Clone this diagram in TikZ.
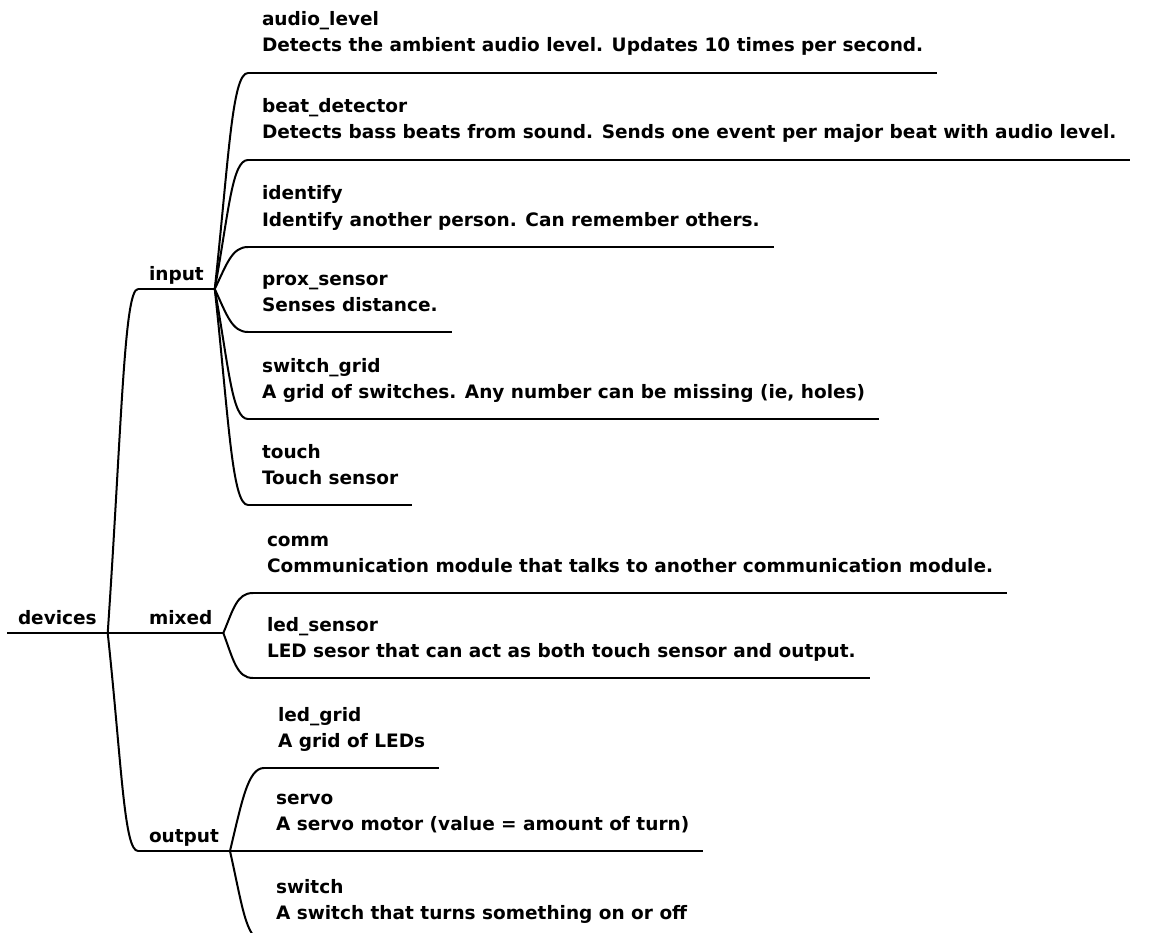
\documentclass[tikz,border=0pt]{standalone}
\usepackage{fontspec}
\setmainfont{DejaVu Sans}
\begin{document}
\begin{tikzpicture}[x=1pt, y=-1pt, line width=2pt,
        topic/.style={anchor=south west, inner xsep=10pt, inner ysep=3pt, text depth=5pt,
            font=\fontsize{18.5}{26}\selectfont\bfseries},
        leaf/.style={anchor=south west, align=left, inner xsep=13pt, inner ysep=15pt, text depth=5pt,
            font=\fontsize{18.5}{26}\selectfont\bfseries}]
        \useasboundingbox (0,0) rectangle (1166,933);

        %%the branches
        \node[topic] (devices) at (7, 633){devices};
        \node[topic] (input) at (138, 289){input};
        \node[topic] (mixed) at (138, 633){mixed};
        \node[topic] (output) at (138, 851){output};

        %%input leaves
        \node[leaf] (audio) at (248, 73){audio\_level\\Detects the ambient audio level. Updates 10 times per second.};
        \node[leaf] (beat) at (248, 160){beat\_detector\\Detects bass beats from sound. Sends one event per major beat with audio level.};
        \node[leaf] (identify) at (248, 247){identify\\Identify another person. Can remember others.};
        \node[leaf] (prox) at (248, 332){prox\_sensor\\Senses distance.};
        \node[leaf] (switchgrid) at (248, 419){switch\_grid\\A grid of switches. Any number can be missing (ie, holes)};
        \node[leaf] (touch) at (248, 505){touch\\Touch sensor};

        %%mixed leaves
        \node[leaf] (comm) at (253, 593){comm\\Communication module that talks to another communication module.};
        \node[leaf] (ledsensor) at (253, 678){led\_sensor\\LED sesor that can act as both touch sensor and output.};

        %%output leaves
        \node[leaf] (ledgrid) at (264, 768){led\_grid\\A grid of LEDs};
        \node[leaf] (servo) at (262, 851){servo\\A servo motor (value = amount of turn)};
        \node[leaf] (switch) at (262, 940){switch\\A switch that turns something on or off};

        %%underlines
        \foreach \n in {devices, input, mixed, output, audio, beat, identify, prox,
                switchgrid, touch, comm, ledsensor, ledgrid, servo, switch}
            \draw (\n.south west) -- (\n.south east);

        %%curves
        \draw (devices.south east) -- (mixed.south west);
        \draw (devices.south east) .. controls +(14, -206) and +(-14, 0) .. (input.south west);
        \draw (devices.south east) .. controls +(14, 131) and +(-14, 0) .. (output.south west);

        \draw (input.south east) .. controls +(14, -130) and +(-16, 0) .. (audio.south west);
        \draw (input.south east) .. controls +(14, -77) and +(-16, 0) .. (beat.south west);
        \draw (input.south east) .. controls +(12, -25) and +(-16, 0) .. (identify.south west);
        \draw (input.south east) .. controls +(12, 26) and +(-16, 0) .. (prox.south west);
        \draw (input.south east) .. controls +(14, 78) and +(-16, 0) .. (switchgrid.south west);
        \draw (input.south east) .. controls +(14, 130) and +(-16, 0) .. (touch.south west);

        \draw (mixed.south east) .. controls +(10, -24) and +(-16, 0) .. (comm.south west);
        \draw (mixed.south east) .. controls +(10, 27) and +(-16, 0) .. (ledsensor.south west);

        \draw (output.south east) .. controls +(12, -50) and +(-16, 0) .. (ledgrid.south west);
        \draw (output.south east) -- (servo.south west);
        \draw (output.south east) .. controls +(12, 53) and +(-16, 0) .. (switch.south west);

    \end{tikzpicture}
\end{document}
